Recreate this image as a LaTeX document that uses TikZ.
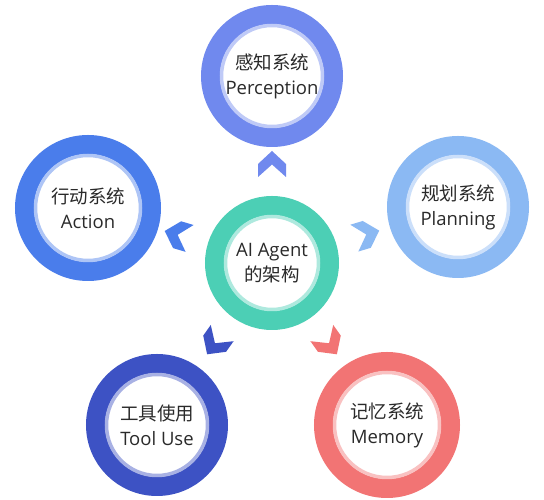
\documentclass[tikz,border=0pt]{standalone}
\usepackage{fontspec}
\setmainfont{Open Sans}
\newfontfamily\cjk{Noto Sans CJK SC}
\definecolor{cT}{HTML}{7089EE}
\definecolor{cL}{HTML}{4A7DEB}
\definecolor{cR}{HTML}{8BB9F3}
\definecolor{cC}{HTML}{4CCFB5}
\definecolor{cBL}{HTML}{3D52C4}
\definecolor{cBR}{HTML}{F27474}
\definecolor{txt}{HTML}{2A2A2A}
\newcommand\mychev[2]{\fill[#2, shift={(C.center)}, rotate=#1] (112,0) -- (99,14) -- (86,14) -- (98.5,0) -- (86,-14) -- (99,-14) -- cycle;}
\newcommand\innerring[3]{\draw[#2!45!white, line width=3.5pt] (#1.center) circle (#3);}
\begin{document}
\begin{tikzpicture}[x=1pt,y=1pt,
  ringnode/.style={circle, draw=#1, line width=19pt, fill=white, inner sep=0pt,
    align=center, font=\fontsize{18.5}{25}\selectfont, text=txt}]
\useasboundingbox[fill=white] (0,0) rectangle (544,500);
% satellites
\node[ringnode=cC,  minimum size=115] (C)  at (272,237) {AI Agent\\{\cjk 的架构}};
\node[ringnode=cT,  minimum size=123] (T)  at (272,424) {{\cjk 感知系统}\\Perception};
\node[ringnode=cL,  minimum size=127] (L)  at (88,292)  {{\cjk 行动系统}\\Action};
\node[ringnode=cR,  minimum size=123] (R)  at (458,293) {{\cjk 规划系统}\\Planning};
\node[ringnode=cBL, minimum size=123] (BL) at (157,75)  {{\cjk 工具使用}\\Tool Use};
\node[ringnode=cBR, minimum size=127] (BR) at (387,75)  {{\cjk 记忆系统}\\Memory};
\innerring{C}{cC}{46.5}
\innerring{T}{cT}{50.5}
\innerring{L}{cL}{52.5}
\innerring{R}{cR}{50.5}
\innerring{BL}{cBL}{50.5}
\innerring{BR}{cBR}{52.5}
% chevrons
\mychev{90}{cT}
\mychev{163.4}{cL}
\mychev{16.8}{cR}
\mychev{234.6}{cBL}
\mychev{305.4}{cBR}
\end{tikzpicture}
\end{document}
